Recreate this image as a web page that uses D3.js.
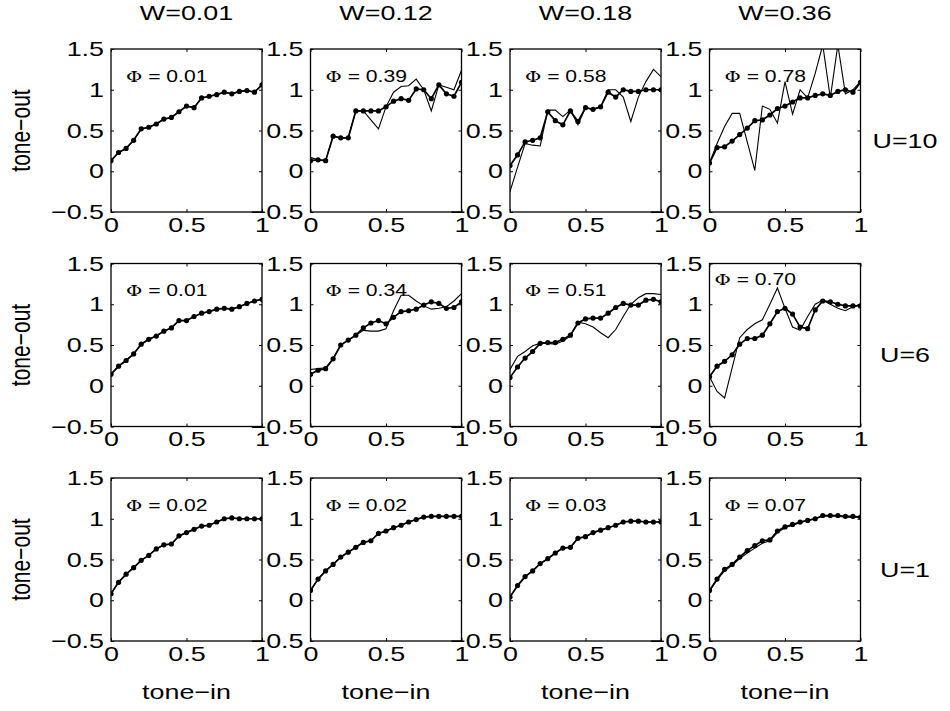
<!DOCTYPE html>
<html>
<head>
<meta charset="utf-8">
<script src="https://cdn.jsdelivr.net/npm/d3@7"></script>
<style>
  body { margin: 0; background: #fff; }
  text { font-family: "Liberation Sans", Arial, Helvetica, sans-serif; fill: #000; }
</style>
</head>
<body>
<div id="chart"></div>
<script>
const w = 950;
const h = 711;

// panel grid
const xLeft = 111;
const yTop = 49;
const colStep = 199.5;
const rowStep = 214.5;
const pw = 151;
const ph = 163;
// the reference text is drawn wider than it is tall
const sx = 1.28;
const fs = 21;

const toneIn = [0, 0.05, 0.1, 0.15, 0.2, 0.25, 0.3, 0.35, 0.4, 0.45, 0.5,
                0.55, 0.6, 0.65, 0.7, 0.75, 0.8, 0.85, 0.9, 0.95, 1];

const colLabels = ["W=0.01", "W=0.12", "W=0.18", "W=0.36"];
const rowLabels = ["U=10", "U=6", "U=1"];
const phiLabels = [["0.01", "0.39", "0.58", "0.78"],
                   ["0.01", "0.34", "0.51", "0.70"],
                   ["0.02", "0.02", "0.03", "0.07"]];
const yTicks = [-0.5, 0, 0.5, 1, 1.5];
const xTicks = [0, 0.5, 1];

// U=10 row: dotted = tone-out, thin = fitted curve
const outU10W01 = [0.13,0.23,0.28,0.38,0.52,0.54,0.58,0.64,0.66,0.73,0.80,0.78,0.90,0.92,0.94,0.97,0.95,0.98,0.99,0.97,1.06];
const fitU10W01 = [0.13,0.23,0.28,0.38,0.52,0.54,0.58,0.64,0.66,0.73,0.80,0.78,0.90,0.92,0.94,0.97,0.95,0.98,0.99,0.97,1.06];
const outU10W12 = [0.13,0.14,0.13,0.43,0.41,0.41,0.74,0.74,0.74,0.74,0.79,0.86,0.89,0.87,1.01,1.00,0.89,1.06,0.95,0.92,1.09];
const fitU10W12 = [0.17,0.14,0.13,0.43,0.41,0.41,0.74,0.74,0.63,0.52,0.79,0.97,1.04,1.05,1.13,1.00,0.74,1.06,1.03,1.00,1.24];
const outU10W18 = [0.07,0.20,0.36,0.38,0.41,0.73,0.62,0.57,0.74,0.61,0.78,0.76,0.79,0.97,0.91,1.00,0.98,0.98,1.00,1.00,1.00];
const fitU10W18 = [-0.25,0.05,0.34,0.32,0.31,0.75,0.75,0.67,0.75,0.57,0.78,0.76,0.79,1.00,1.00,0.91,0.61,0.91,1.10,1.25,1.16];
const outU10W36 = [0.10,0.29,0.30,0.37,0.45,0.53,0.62,0.63,0.69,0.77,0.80,0.85,0.90,0.90,0.93,0.95,0.93,0.98,1.00,0.97,1.09];
const fitU10W36 = [0.10,0.34,0.55,0.71,0.71,0.36,0.01,0.80,0.76,0.59,1.10,0.70,1.00,0.90,1.20,1.55,0.90,1.55,0.95,1.00,1.10];

// U=6 row
const outU6W01 = [0.14,0.24,0.31,0.39,0.51,0.57,0.61,0.67,0.71,0.80,0.80,0.85,0.89,0.91,0.94,0.95,0.94,0.97,1.01,1.04,1.06];
const fitU6W01 = [0.14,0.24,0.31,0.39,0.51,0.57,0.61,0.67,0.71,0.80,0.80,0.85,0.89,0.91,0.94,0.95,0.94,0.97,1.01,1.04,1.06];
const outU6W12 = [0.14,0.19,0.21,0.33,0.50,0.56,0.62,0.71,0.77,0.80,0.76,0.84,0.91,0.92,0.94,0.99,1.03,1.01,0.95,0.96,1.03];
const fitU6W12 = [0.20,0.21,0.22,0.33,0.50,0.56,0.62,0.68,0.67,0.67,0.70,0.92,1.11,1.11,1.04,0.98,0.94,0.95,0.97,1.04,1.13];
const outU6W18 = [0.10,0.23,0.34,0.42,0.52,0.53,0.53,0.57,0.62,0.77,0.82,0.83,0.83,0.89,0.96,1.01,0.99,0.99,1.05,1.06,1.03];
const fitU6W18 = [0.20,0.36,0.42,0.49,0.52,0.52,0.51,0.55,0.61,0.78,0.76,0.72,0.65,0.59,0.69,0.85,1.00,1.08,1.13,1.13,1.12];
const outU6W36 = [0.11,0.24,0.30,0.38,0.51,0.58,0.58,0.62,0.76,0.91,0.95,0.88,0.72,0.70,0.93,1.04,1.03,1.00,0.98,0.98,0.98];
const fitU6W36 = [0.11,-0.07,-0.15,0.22,0.59,0.69,0.76,0.81,1.00,1.20,0.95,0.72,0.68,0.85,1.00,1.05,1.00,0.95,0.92,0.97,1.00];

// U=1 row
const outU1W01 = [0.08,0.22,0.32,0.40,0.49,0.55,0.63,0.68,0.69,0.79,0.83,0.87,0.91,0.92,0.96,1.00,1.01,1.00,1.00,1.00,1.00];
const fitU1W01 = [0.08,0.22,0.32,0.40,0.49,0.55,0.63,0.68,0.69,0.79,0.83,0.87,0.91,0.92,0.96,1.00,1.01,1.00,1.00,1.00,1.00];
const outU1W12 = [0.12,0.26,0.36,0.44,0.53,0.59,0.65,0.71,0.73,0.82,0.85,0.89,0.92,0.96,0.99,1.02,1.03,1.03,1.03,1.03,1.03];
const fitU1W12 = [0.12,0.26,0.36,0.44,0.53,0.59,0.65,0.71,0.73,0.82,0.85,0.89,0.92,0.96,0.99,1.02,1.03,1.03,1.03,1.03,1.03];
const outU1W18 = [0.04,0.18,0.29,0.36,0.45,0.51,0.58,0.64,0.65,0.76,0.78,0.83,0.86,0.89,0.92,0.96,0.97,0.97,0.96,0.96,0.96];
const fitU1W18 = [0.04,0.18,0.29,0.36,0.45,0.51,0.58,0.64,0.65,0.76,0.78,0.83,0.86,0.89,0.92,0.96,0.97,0.97,0.96,0.96,0.96];
const outU1W36 = [0.12,0.26,0.38,0.44,0.53,0.61,0.67,0.73,0.74,0.85,0.90,0.93,0.96,0.98,1.00,1.04,1.04,1.04,1.03,1.03,1.02];
const fitU1W36 = [0.11,0.25,0.36,0.43,0.51,0.58,0.64,0.70,0.73,0.83,0.89,0.92,0.95,0.98,1.00,1.03,1.03,1.03,1.02,1.02,1.02];

const outSeries = [[outU10W01, outU10W12, outU10W18, outU10W36],
                   [outU6W01, outU6W12, outU6W18, outU6W36],
                   [outU1W01, outU1W12, outU1W18, outU1W36]];
const fitSeries = [[fitU10W01, fitU10W12, fitU10W18, fitU10W36],
                   [fitU6W01, fitU6W12, fitU6W18, fitU6W36],
                   [fitU1W01, fitU1W12, fitU1W18, fitU1W36]];

const svg = d3.select("#chart")
  .append("svg")
  .attr("width", w)
  .attr("height", h);

const x = d3.scaleLinear().domain([0, 1]).range([0, pw]);
const y = d3.scaleLinear().domain([-0.5, 1.5]).range([ph, 0]);

const fmt = d => d < 0 ? "\u2212" + Math.abs(d) : String(d);

const line = d3.line()
  .x((d, i) => x(toneIn[i]))
  .y(d => y(d));

// stretched label helper
function label(cx, cy, txt, extra) {
  return svg.append("text")
    .attr("transform", `translate(${cx},${cy}) scale(${sx},1)` + (extra || ""))
    .attr("text-anchor", "middle")
    .attr("font-size", fs)
    .text(txt);
}

rowLabels.forEach((uLab, r) => {
  colLabels.forEach((wLab, c) => {
    const gx = xLeft + c * colStep;
    const gy = yTop + r * rowStep;
    const g = svg.append("g").attr("transform", `translate(${gx},${gy})`);
    const clipId = `clip-${r}-${c}`;
    g.append("clipPath").attr("id", clipId)
      .append("rect").attr("width", pw).attr("height", ph);

    // axes, ticks pointing inward like matlab
    const yAx = g.append("g")
      .call(d3.axisLeft(y).tickValues(yTicks).tickFormat(fmt).tickSizeInner(-3).tickSizeOuter(0));
    yAx.selectAll(".tick text")
      .attr("x", 0)
      .attr("transform", `translate(-7,0) scale(${sx},1)`);
    const xAx = g.append("g").attr("transform", `translate(0,${ph})`)
      .call(d3.axisBottom(x).tickValues(xTicks).tickFormat(fmt).tickSizeInner(-3).tickSizeOuter(0));
    xAx.selectAll(".tick text")
      .attr("y", 0)
      .attr("transform", `translate(0,5) scale(${sx},1)`);
    g.append("g")
      .call(d3.axisTop(x).tickValues(xTicks).tickFormat("").tickSizeInner(-3).tickSizeOuter(0));
    g.append("g").attr("transform", `translate(${pw},0)`)
      .call(d3.axisRight(y).tickValues(yTicks).tickFormat("").tickSizeInner(-3).tickSizeOuter(0));
    g.selectAll(".domain").remove();
    g.selectAll(".tick line").attr("stroke", "#000").attr("stroke-width", 1);
    g.selectAll(".tick text").attr("font-size", fs)
      .attr("font-family", "Liberation Sans, Arial, sans-serif").attr("fill", "#000");

    const plot = g.append("g").attr("clip-path", `url(#${clipId})`);
    plot.append("path")
      .datum(fitSeries[r][c])
      .attr("d", line)
      .attr("fill", "none")
      .attr("stroke", "#000")
      .attr("stroke-width", 1.1);
    plot.append("path")
      .datum(outSeries[r][c])
      .attr("d", line)
      .attr("fill", "none")
      .attr("stroke", "#000")
      .attr("stroke-width", 1.7);
    plot.selectAll("circle")
      .data(outSeries[r][c])
      .enter().append("circle")
      .attr("cx", (d, i) => x(toneIn[i]))
      .attr("cy", d => y(d))
      .attr("r", 2.6)
      .attr("fill", "#000");

    g.append("rect")
      .attr("width", pw).attr("height", ph)
      .attr("fill", "none").attr("stroke", "#000").attr("stroke-width", 1.3);

    // phi label (last panel of middle row sits higher/left)
    const special = (r === 1 && c === 3);
    const phi = g.append("text")
      .attr("transform", `translate(${special ? 5 : 15},${special ? 21 : 32.5}) scale(${sx},1)`)
      .attr("font-size", 16.5);
    phi.append("tspan").attr("font-family", "DejaVu Serif, Liberation Serif, serif").attr("font-size", 15.5).text("\u03A6");
    phi.append("tspan").text(" = " + phiLabels[r][c]);

    if (r === 0) label(gx + pw / 2, 20, wLab);
    if (r === rowLabels.length - 1) label(gx + pw / 2, 699, "tone\u2212in");
    if (c === 0) label(30, gy + ph / 2, "tone\u2212out", " rotate(-90)");
  });
  label(905, yTop + r * rowStep + ph / 2 + 17, uLab);
});
</script>
</body>
</html>
